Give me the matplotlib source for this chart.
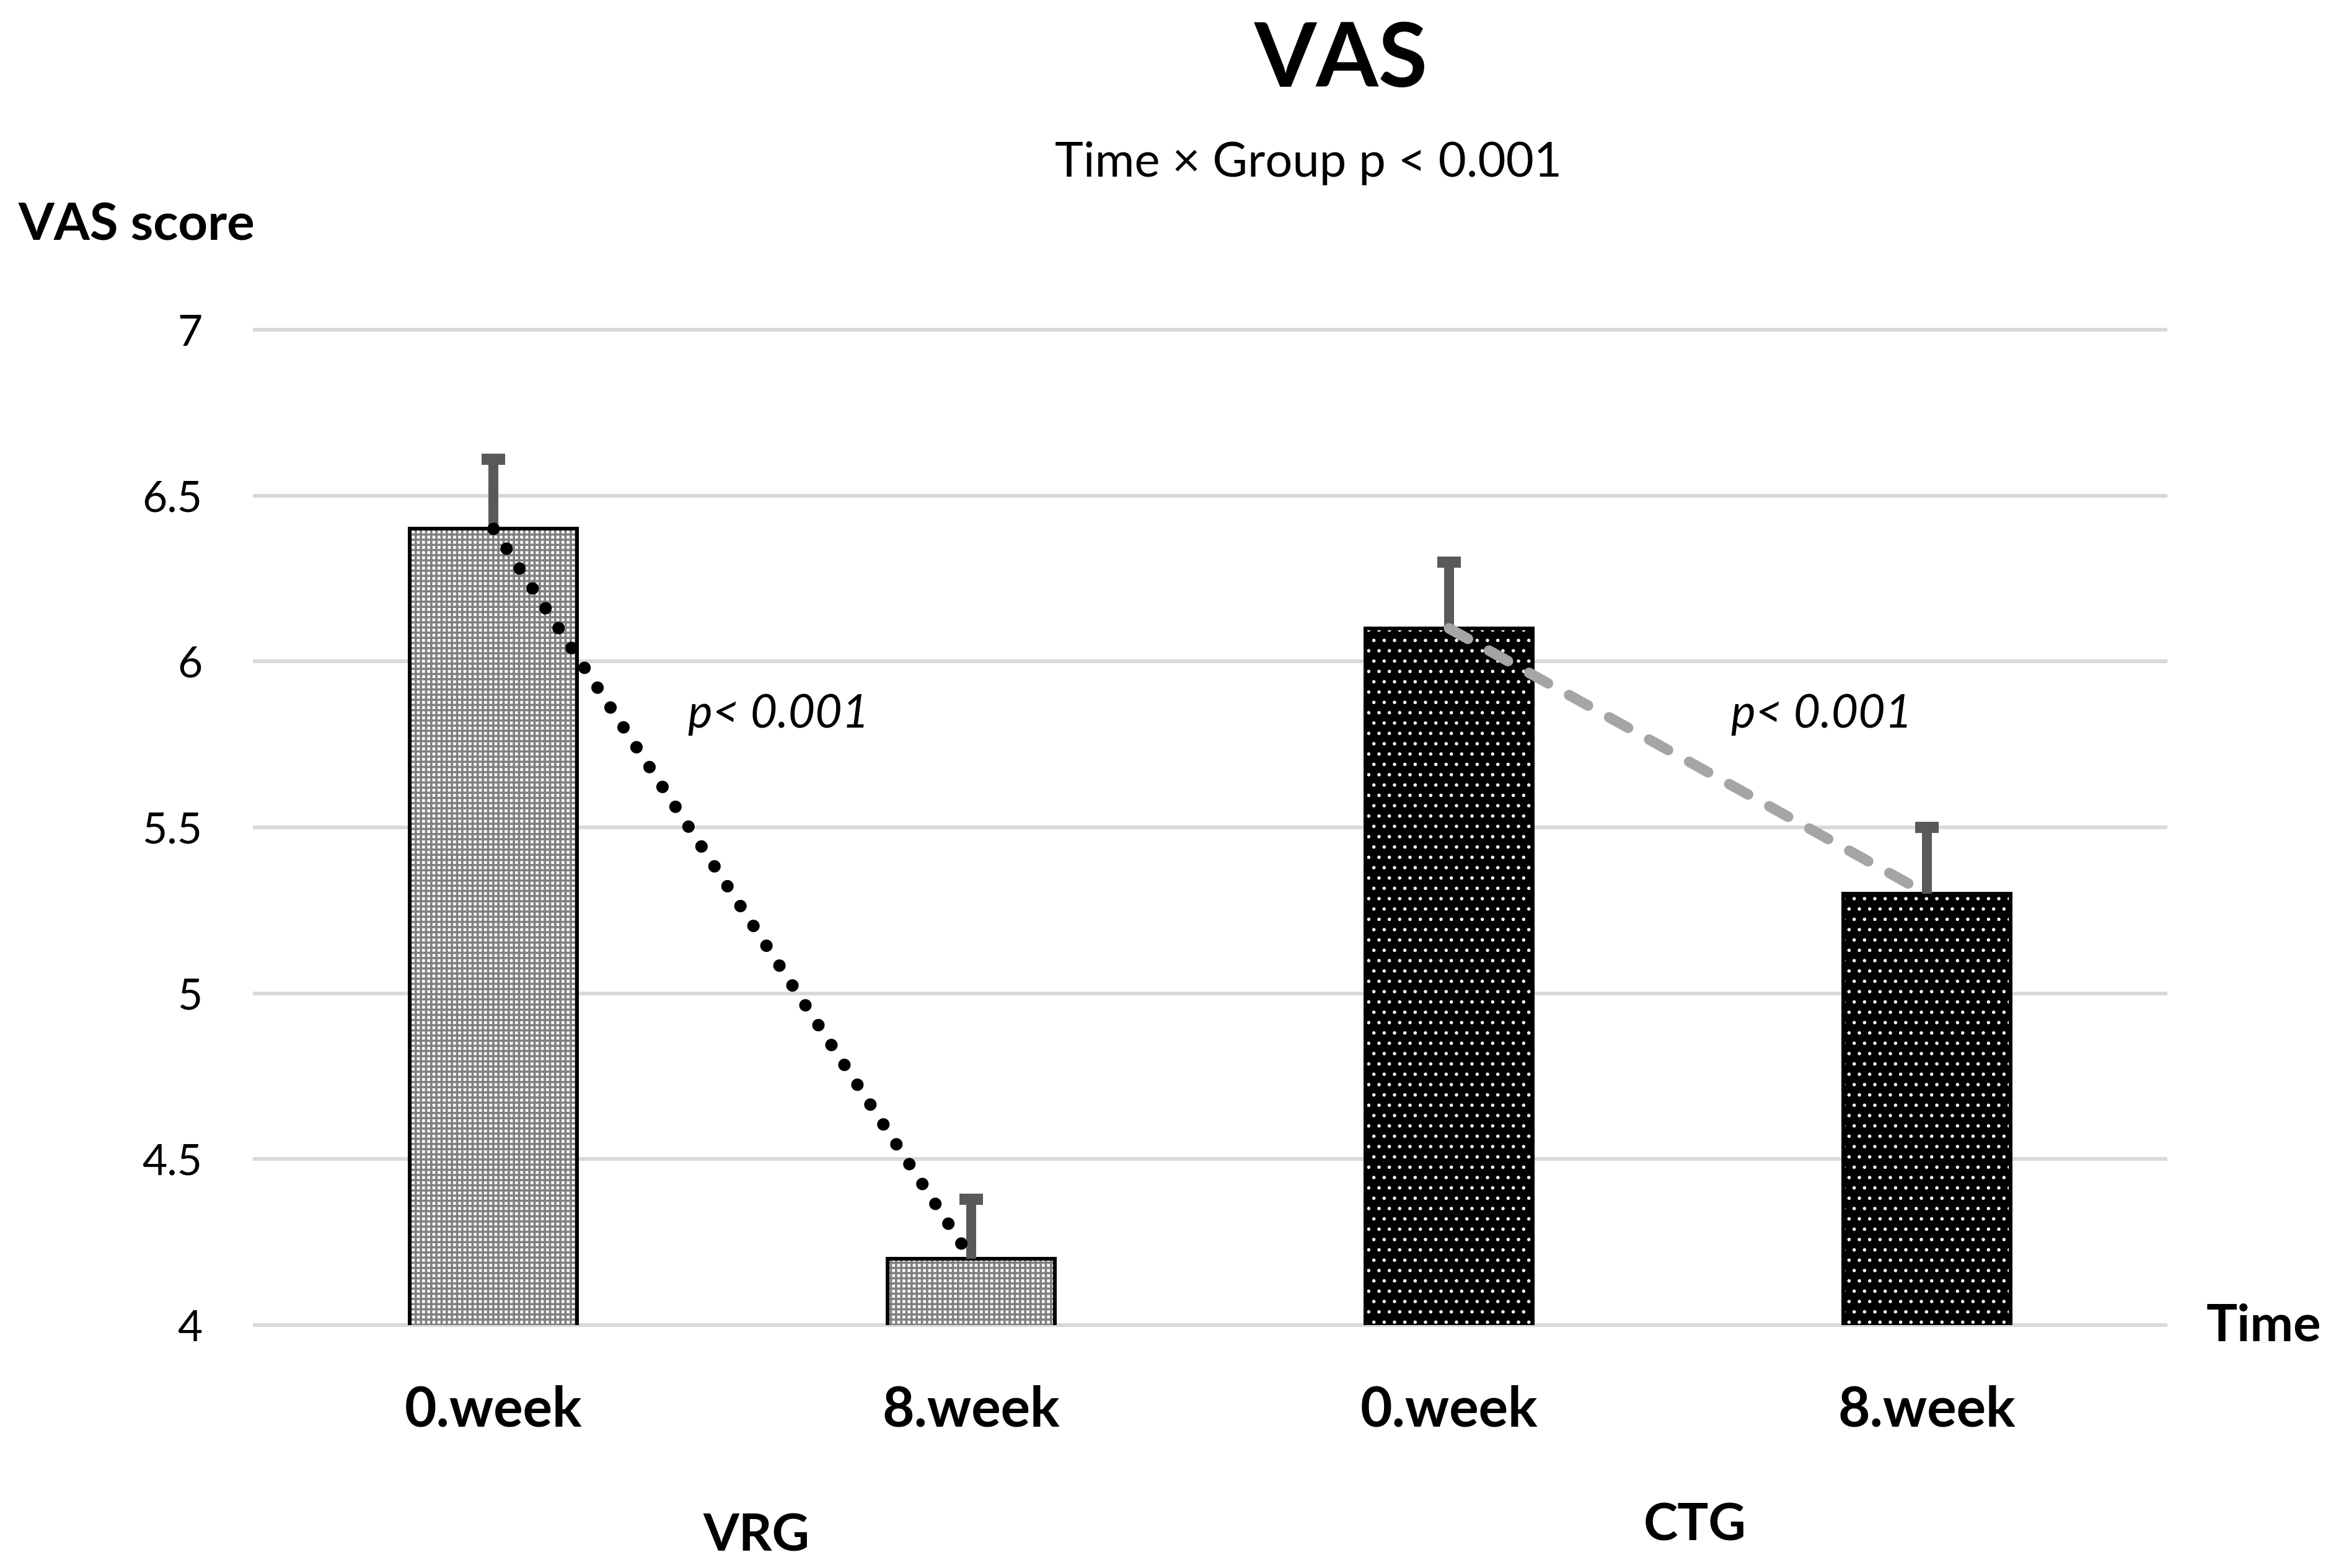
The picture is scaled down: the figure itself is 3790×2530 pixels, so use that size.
import matplotlib
matplotlib.use("Agg")
import matplotlib.pyplot as plt
import matplotlib.transforms as mtransforms
import numpy as np

plt.rcParams['font.family'] = ['Lato', 'DejaVu Sans']

# ---- data ----
categories = ["0.week", "8.week", "0.week", "8.week"]
groups = ["VRG", "CTG"]
means = [6.4, 4.2, 6.1, 5.3]
err_up = [0.21, 0.18, 0.20, 0.20]
yticks = [4, 4.5, 5, 5.5, 6, 6.5, 7]
ytick_labels = ["4", "4.5", "5", "5.5", "6", "6.5", "7"]
p_labels = ["p< 0.001", "p< 0.001"]

W, H = 3791, 2530
fig = plt.figure(figsize=(W / 100, H / 100), dpi=100)
ax = fig.add_axes([0.1084, 0.1549, 0.8133, 0.6348])

x = np.arange(len(categories))
bw = 0.35


def set_hlw(bars, lw):
    for p in bars:
        if hasattr(p, 'set_hatch_linewidth'):
            p.set_hatch_linewidth(lw)


# VRG bars: grey checker pattern
plt.rcParams['hatch.linewidth'] = 2.6
b1 = ax.bar(x[:2], means[:2], width=bw, bottom=0, facecolor='white', edgecolor='#808080',
            linewidth=0, hatch='++', zorder=2)
set_hlw(b1, 2.6)
# CTG bars: black with white dots
plt.rcParams['hatch.linewidth'] = 1.5
b2 = ax.bar(x[2:], means[2:], width=bw, bottom=0, facecolor='black', edgecolor='white',
            linewidth=0, hatch='.', zorder=2)
set_hlw(b2, 1.5)
# outlines
ax.bar(x, means, width=bw, bottom=0, fill=False, edgecolor='black', linewidth=4.3, zorder=3)

# error bars (upper only)
eb = ax.errorbar(x, means, yerr=[np.zeros(len(means)), err_up], fmt='none',
                 ecolor='#595959', elinewidth=11.5, capsize=14, capthick=13, zorder=4)
caplines = eb[1]
if len(caplines) >= 1:
    caplines[0].set_visible(False)

# connecting lines
ax.plot(x[:2], means[:2], color='black', linewidth=14.5,
        linestyle=(0, (0.001, 1.9)), dash_capstyle='round', zorder=5)
ax.plot(x[2:], means[2:], color='#A5A5A5', linewidth=12.2,
        linestyle=(0, (2.06, 2.3)), dash_capstyle='round', zorder=5)

# axes styling
ax.set_xlim(-0.5, 3.5)
ax.set_ylim(4, 7)
ax.set_yticks(yticks)
ax.set_yticklabels(ytick_labels, fontsize=50)
ax.set_xticks(x)
ax.set_xticklabels(categories, fontsize=64, fontweight='bold')
for lbl in ax.get_xticklabels():
    lbl.set_verticalalignment('baseline')
ax.tick_params(axis='x', length=0, pad=118)
ax.tick_params(axis='y', length=0, pad=61)
for s in ax.spines.values():
    s.set_visible(False)
ax.set_axisbelow(True)
ax.yaxis.grid(True, color='#D9D9D9', linewidth=4.3)
ax.xaxis.grid(False)
for gl in ax.get_ygridlines():
    gl.set_clip_on(False)

# p-value annotations
ax.text(0.407, 5.80, p_labels[0], fontsize=54, style='italic', ha='left', va='baseline')
ax.text(2.590, 5.80, p_labels[1], fontsize=54, style='italic', ha='left', va='baseline')

# group labels
trans = mtransforms.blended_transform_factory(ax.transData, fig.transFigure)
ax.text(0.55, 0.0107, groups[0], transform=trans, fontsize=60, fontweight='bold',
        ha='center', va='baseline')
ax.text(2.515, 0.0174, groups[1], transform=trans, fontsize=60, fontweight='bold',
        ha='center', va='baseline')

# titles and axis labels
fig.text(0.5709, 0.9447, "VAS", fontsize=104, fontweight='bold', ha='center', va='baseline')
fig.text(0.5568, 0.8873, "Time \u00d7 Group p < 0.001", fontsize=56, ha='center', va='baseline')
fig.text(0.0077, 0.847, "VAS score", fontsize=60, fontweight='bold', ha='left', va='baseline')
fig.text(0.9389, 0.1447, "Time", fontsize=60, fontweight='bold', ha='left', va='baseline')

fig.savefig("out.png", dpi=100, facecolor='white')
